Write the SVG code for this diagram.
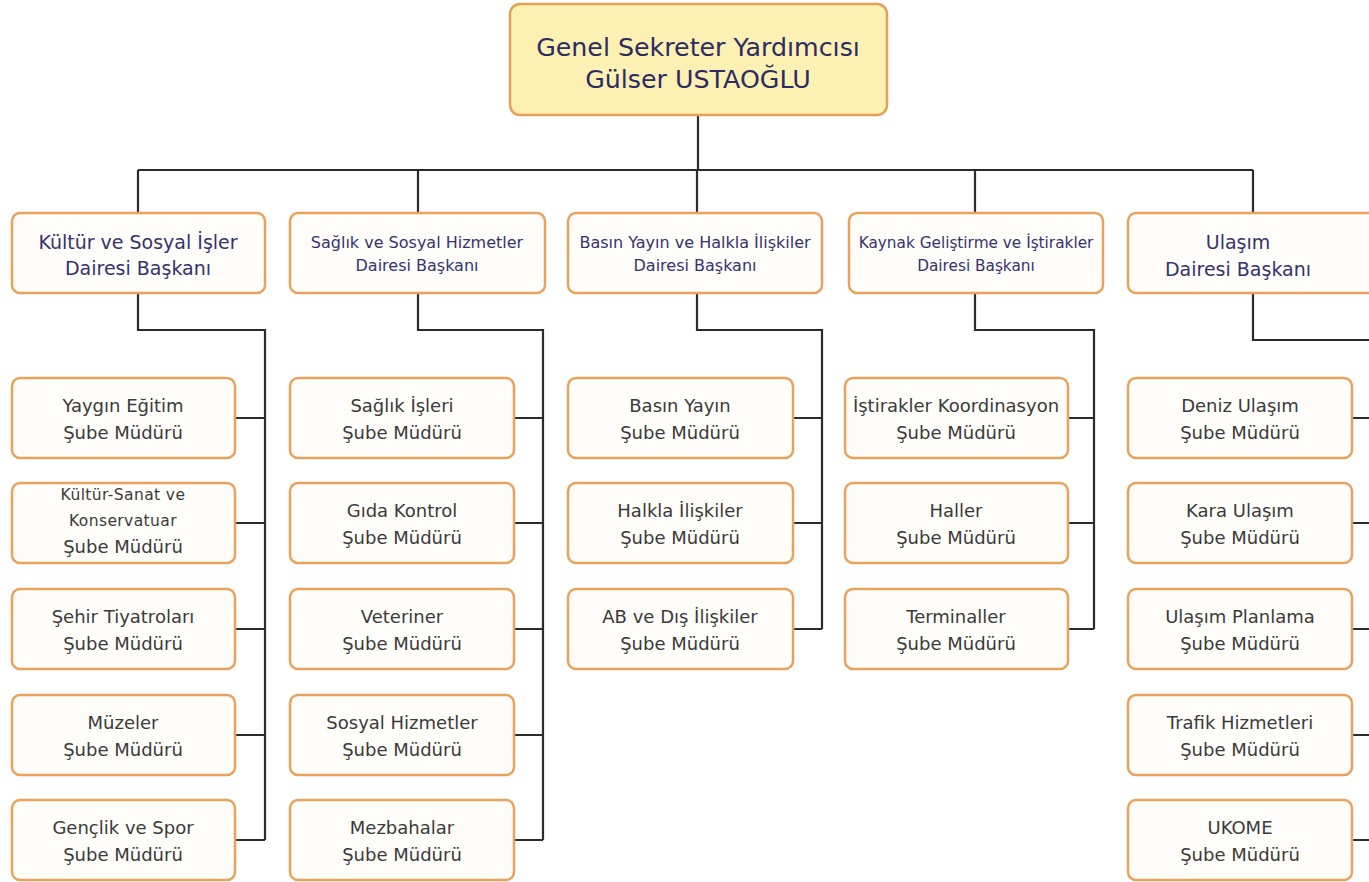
<svg xmlns="http://www.w3.org/2000/svg" width="1369" height="882" viewBox="0 0 1369 882">
<style>
.bg{fill:#ffffff}
.box{fill:#fffdf9;stroke:#e9a25c;stroke-width:2.5}
.top{fill:#fcf1b2;stroke:#e6a055;stroke-width:2.5}
.ln{fill:none;stroke:#2b2b2b;stroke-width:2.2}
text{font-family:"DejaVu Sans",Verdana,sans-serif;text-anchor:middle}
.t0{font-size:25.3px;fill:#2e2a64}
.d1{font-size:19px;fill:#36326e}
.d2{font-size:16px;fill:#36326e}
.d3{font-size:15.3px;fill:#36326e}
.s{font-size:18px;fill:#3a3a3a}
.s2{font-size:15.5px;fill:#3a3a3a;letter-spacing:0.4px}
</style>
<rect class="bg" x="0" y="0" width="1369" height="882"/>
<g id="connectors">
<path class="ln" d="M698 116V170M138 170H1253M138 170V213M418 170V213M697 170V213M975 170V213M1253 170V213"/>
<path class="ln" d="M138 293V330H265V840M235 418H265M235 523H265M235 629H265M235 735H265M235 840H265"/>
<path class="ln" d="M418 293V330H543V840M514 418H543M514 523H543M514 629H543M514 735H543M514 840H543"/>
<path class="ln" d="M697 293V330H822V629M793 418H822M793 523H822M793 629H822"/>
<path class="ln" d="M975 293V330H1094V629M1068 418H1094M1068 523H1094M1068 629H1094"/>
<path class="ln" d="M1253 293V340H1370M1352 418H1370M1352 523H1370M1352 629H1370M1352 735H1370M1352 840H1370"/>
</g>
<g id="n-top"><rect class="top" x="510" y="4" width="377" height="111" rx="10"/><text class="t0" x="698" y="56">Genel Sekreter Yardımcısı</text><text class="t0" x="698" y="88">Gülser USTAOĞLU</text></g>
<g id="n-kultur"><rect class="box" x="12" y="213" width="253" height="80" rx="8"/><text class="d1" x="138" y="249">Kültür ve Sosyal İşler</text><text class="d1" x="138" y="275">Dairesi Başkanı</text></g>
<g id="n-saglik"><rect class="box" x="290" y="213" width="255" height="80" rx="8"/><text class="d2" x="417" y="248">Sağlık ve Sosyal Hizmetler</text><text class="d2" x="417" y="271">Dairesi Başkanı</text></g>
<g id="n-basin"><rect class="box" x="568" y="213" width="254" height="80" rx="8"/><text class="d2" x="695" y="248">Basın Yayın ve Halkla İlişkiler</text><text class="d2" x="695" y="271">Dairesi Başkanı</text></g>
<g id="n-kaynak"><rect class="box" x="849" y="213" width="254" height="80" rx="8"/><text class="d3" x="976" y="248">Kaynak Geliştirme ve İştirakler</text><text class="d3" x="976" y="271">Dairesi Başkanı</text></g>
<g id="n-ulasim"><rect class="box" x="1128" y="213" width="260" height="80" rx="8"/><text class="d1" x="1238" y="249">Ulaşım</text><text class="d1" x="1238" y="276">Dairesi Başkanı</text></g>

<g id="n-yaygin"><rect class="box" x="12" y="378" width="223" height="80" rx="8"/><text class="s" x="123" y="412">Yaygın Eğitim</text><text class="s" x="123" y="439">Şube Müdürü</text></g>
<g id="n-kultursanat"><rect class="box" x="12" y="483" width="223" height="80" rx="8"/><text class="s2" x="123" y="500">Kültür-Sanat ve</text><text class="s2" x="123" y="526">Konservatuar</text><text class="s" x="123" y="553">Şube Müdürü</text></g>
<g id="n-sehir"><rect class="box" x="12" y="589" width="223" height="80" rx="8"/><text class="s" x="123" y="623">Şehir Tiyatroları</text><text class="s" x="123" y="650">Şube Müdürü</text></g>
<g id="n-muzeler"><rect class="box" x="12" y="695" width="223" height="80" rx="8"/><text class="s" x="123" y="729">Müzeler</text><text class="s" x="123" y="756">Şube Müdürü</text></g>
<g id="n-genclik"><rect class="box" x="12" y="800" width="223" height="80" rx="8"/><text class="s" x="123" y="834">Gençlik ve Spor</text><text class="s" x="123" y="861">Şube Müdürü</text></g>

<g id="n-saglikisleri"><rect class="box" x="290" y="378" width="224" height="80" rx="8"/><text class="s" x="402" y="412">Sağlık İşleri</text><text class="s" x="402" y="439">Şube Müdürü</text></g>
<g id="n-gida"><rect class="box" x="290" y="483" width="224" height="80" rx="8"/><text class="s" x="402" y="517">Gıda Kontrol</text><text class="s" x="402" y="544">Şube Müdürü</text></g>
<g id="n-veteriner"><rect class="box" x="290" y="589" width="224" height="80" rx="8"/><text class="s" x="402" y="623">Veteriner</text><text class="s" x="402" y="650">Şube Müdürü</text></g>
<g id="n-sosyal"><rect class="box" x="290" y="695" width="224" height="80" rx="8"/><text class="s" x="402" y="729">Sosyal Hizmetler</text><text class="s" x="402" y="756">Şube Müdürü</text></g>
<g id="n-mezbaha"><rect class="box" x="290" y="800" width="224" height="80" rx="8"/><text class="s" x="402" y="834">Mezbahalar</text><text class="s" x="402" y="861">Şube Müdürü</text></g>

<g id="n-basinyayin"><rect class="box" x="568" y="378" width="225" height="80" rx="8"/><text class="s" x="680" y="412">Basın Yayın</text><text class="s" x="680" y="439">Şube Müdürü</text></g>
<g id="n-halkla"><rect class="box" x="568" y="483" width="225" height="80" rx="8"/><text class="s" x="680" y="517">Halkla İlişkiler</text><text class="s" x="680" y="544">Şube Müdürü</text></g>
<g id="n-ab"><rect class="box" x="568" y="589" width="225" height="80" rx="8"/><text class="s" x="680" y="623">AB ve Dış İlişkiler</text><text class="s" x="680" y="650">Şube Müdürü</text></g>

<g id="n-istirakler"><rect class="box" x="845" y="378" width="223" height="80" rx="8"/><text class="s" x="956" y="412">İştirakler Koordinasyon</text><text class="s" x="956" y="439">Şube Müdürü</text></g>
<g id="n-haller"><rect class="box" x="845" y="483" width="223" height="80" rx="8"/><text class="s" x="956" y="517">Haller</text><text class="s" x="956" y="544">Şube Müdürü</text></g>
<g id="n-terminaller"><rect class="box" x="845" y="589" width="223" height="80" rx="8"/><text class="s" x="956" y="623">Terminaller</text><text class="s" x="956" y="650">Şube Müdürü</text></g>

<g id="n-deniz"><rect class="box" x="1128" y="378" width="224" height="80" rx="8"/><text class="s" x="1240" y="412">Deniz Ulaşım</text><text class="s" x="1240" y="439">Şube Müdürü</text></g>
<g id="n-kara"><rect class="box" x="1128" y="483" width="224" height="80" rx="8"/><text class="s" x="1240" y="517">Kara Ulaşım</text><text class="s" x="1240" y="544">Şube Müdürü</text></g>
<g id="n-planlama"><rect class="box" x="1128" y="589" width="224" height="80" rx="8"/><text class="s" x="1240" y="623">Ulaşım Planlama</text><text class="s" x="1240" y="650">Şube Müdürü</text></g>
<g id="n-trafik"><rect class="box" x="1128" y="695" width="224" height="80" rx="8"/><text class="s" x="1240" y="729">Trafik Hizmetleri</text><text class="s" x="1240" y="756">Şube Müdürü</text></g>
<g id="n-ukome"><rect class="box" x="1128" y="800" width="224" height="80" rx="8"/><text class="s" x="1240" y="834">UKOME</text><text class="s" x="1240" y="861">Şube Müdürü</text></g>
</svg>
